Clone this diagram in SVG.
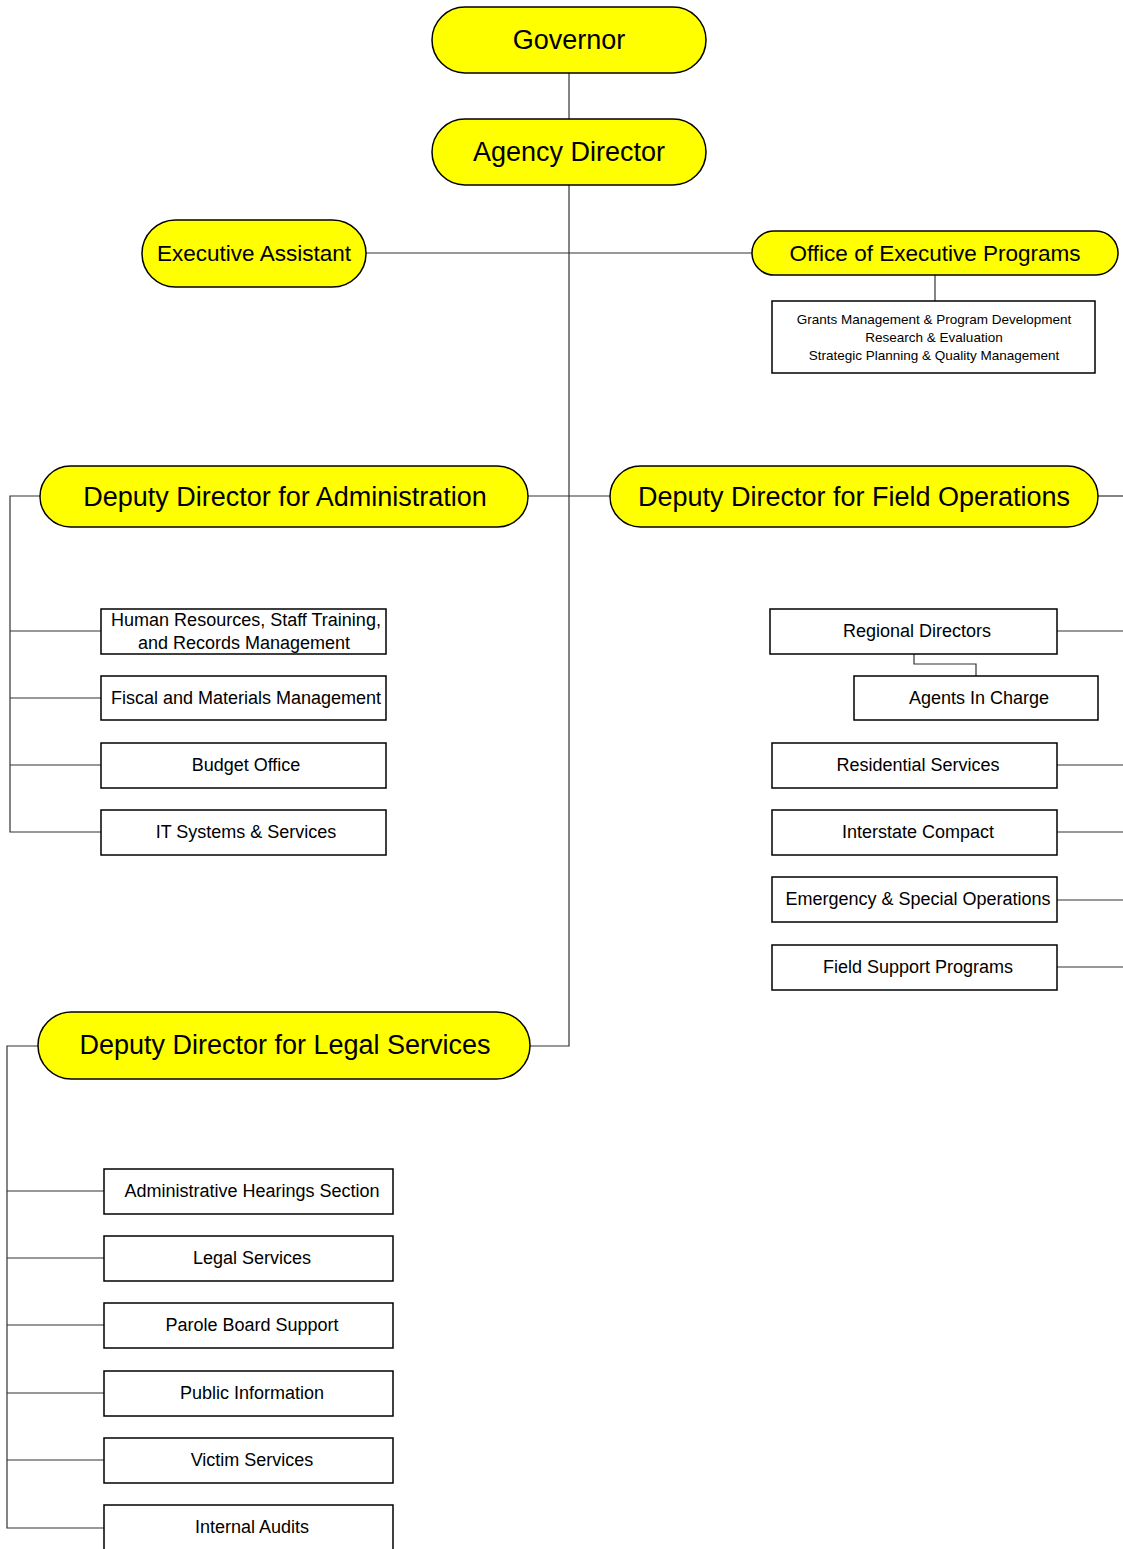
<svg xmlns="http://www.w3.org/2000/svg" width="1123" height="1549" viewBox="0 0 1123 1549">
<style>
.pill{fill:#ffff00;stroke:#000;stroke-width:1.5}
.box{fill:#fff;stroke:#000;stroke-width:1.5}
.c{fill:none;stroke:#333;stroke-width:1.2}
text{font-family:"Liberation Sans",Arial,sans-serif;fill:#000;text-anchor:middle;dominant-baseline:central}
.big{font-size:27px}
.mid{font-size:22.5px}
.sm{font-size:18px}
.xs{font-size:13.5px}
</style>
<rect width="1123" height="1549" fill="#fff"/>
<g id="connectors">
<path class="c" d="M569,73V119"/>
<path class="c" d="M569,185V1046H530"/>
<path class="c" d="M366,253H752"/>
<path class="c" d="M935,275V301"/>
<path class="c" d="M528,496H610"/>
<path class="c" d="M1098,496H1123"/>
<path class="c" d="M40,496H10V832H101"/>
<path class="c" d="M10,631H101M10,698H101M10,765H101"/>
<path class="c" d="M1057,631H1123M1057,765H1123M1057,832H1123M1057,900H1123M1057,967H1123"/>
<path class="c" d="M914,654V664H976V676"/>
<path class="c" d="M38,1046H7V1528H104"/>
<path class="c" d="M7,1191H104M7,1258H104M7,1325H104M7,1393H104M7,1460H104"/>
</g>
<g id="governor"><rect class="pill" x="432" y="7" width="274" height="66" rx="33"/><text class="big" x="569" y="40">Governor</text></g>
<g id="agency-director"><rect class="pill" x="432" y="119" width="274" height="66" rx="33"/><text class="big" x="569" y="152">Agency Director</text></g>
<g id="executive-assistant"><rect class="pill" x="142" y="220" width="224" height="67" rx="33.5"/><text class="mid" x="254" y="253">Executive Assistant</text></g>
<g id="office-exec-programs"><rect class="pill" x="752" y="231" width="366" height="44" rx="22"/><text class="mid" x="935" y="253">Office of Executive Programs</text></g>
<g id="grants"><rect class="box" x="772" y="301" width="323" height="72"/>
<text class="xs" x="934" y="319">Grants Management &amp; Program Development</text>
<text class="xs" x="934" y="337">Research &amp; Evaluation</text>
<text class="xs" x="934" y="355">Strategic Planning &amp; Quality Management</text></g>
<g id="dd-admin"><rect class="pill" x="40" y="466" width="488" height="61" rx="30.5"/><text class="big" x="285" y="497">Deputy Director for Administration</text></g>
<g id="dd-field"><rect class="pill" x="610" y="466" width="488" height="61" rx="30.5"/><text class="big" x="854" y="497">Deputy Director for Field Operations</text></g>
<g id="hr"><rect class="box" x="101" y="609" width="285" height="45"/><text class="sm" x="246" y="620">Human Resources, Staff Training,</text><text class="sm" x="244" y="643">and Records Management</text></g>
<g id="fiscal"><rect class="box" x="101" y="676" width="285" height="44"/><text class="sm" x="246" y="698">Fiscal and Materials Management</text></g>
<g id="budget"><rect class="box" x="101" y="743" width="285" height="45"/><text class="sm" x="246" y="765">Budget Office</text></g>
<g id="it"><rect class="box" x="101" y="810" width="285" height="45"/><text class="sm" x="246" y="832">IT Systems &amp; Services</text></g>
<g id="regional"><rect class="box" x="770" y="609" width="287" height="45"/><text class="sm" x="917" y="631">Regional Directors</text></g>
<g id="agents"><rect class="box" x="854" y="676" width="244" height="44"/><text class="sm" x="979" y="698">Agents In Charge</text></g>
<g id="residential"><rect class="box" x="772" y="743" width="285" height="45"/><text class="sm" x="918" y="765">Residential Services</text></g>
<g id="interstate"><rect class="box" x="772" y="810" width="285" height="45"/><text class="sm" x="918" y="832">Interstate Compact</text></g>
<g id="emergency"><rect class="box" x="772" y="877" width="285" height="45"/><text class="sm" x="918" y="899">Emergency &amp; Special Operations</text></g>
<g id="field-support"><rect class="box" x="772" y="945" width="285" height="45"/><text class="sm" x="918" y="967">Field Support Programs</text></g>
<g id="dd-legal"><rect class="pill" x="38" y="1012" width="492" height="67" rx="33.5"/><text class="big" x="285" y="1045">Deputy Director for Legal Services</text></g>
<g id="hearings"><rect class="box" x="104" y="1169" width="289" height="45"/><text class="sm" x="252" y="1191">Administrative Hearings Section</text></g>
<g id="legal"><rect class="box" x="104" y="1236" width="289" height="45"/><text class="sm" x="252" y="1258">Legal Services</text></g>
<g id="parole"><rect class="box" x="104" y="1303" width="289" height="45"/><text class="sm" x="252" y="1325">Parole Board Support</text></g>
<g id="public-info"><rect class="box" x="104" y="1371" width="289" height="45"/><text class="sm" x="252" y="1393">Public Information</text></g>
<g id="victim"><rect class="box" x="104" y="1438" width="289" height="45"/><text class="sm" x="252" y="1460">Victim Services</text></g>
<g id="audits"><rect class="box" x="104" y="1505" width="289" height="50"/><text class="sm" x="252" y="1527">Internal Audits</text></g>
</svg>
